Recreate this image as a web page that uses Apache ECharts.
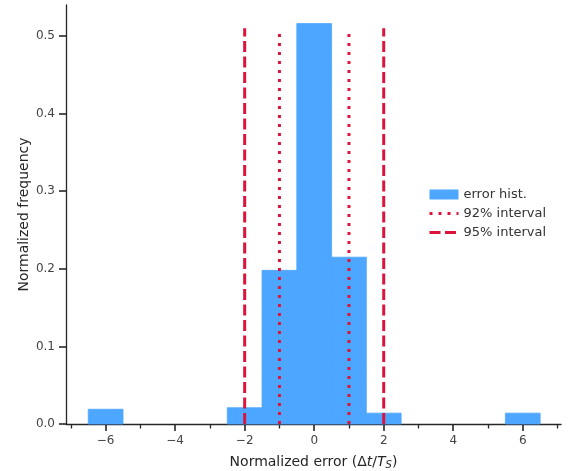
<!DOCTYPE html>
<html>
<head>
<meta charset="utf-8">
<script src="https://cdn.jsdelivr.net/npm/echarts@6/dist/echarts.min.js"></script>
<style>html,body{margin:0;padding:0;background:#fff}#c{width:569px;height:471px}</style>
</head>
<body>
<div id="c"></div>
<script>
// Data
var binStart = [-6.5, -2.5, -1.5, -0.5, 0.5, 1.5, 5.5];
var binEnd   = [-5.5, -1.5, -0.5, 0.5, 1.5, 2.5, 6.5];
var frequencies = [0.019, 0.021, 0.198, 0.516, 0.215, 0.014, 0.014];
var interval92 = [-1, 1];
var interval95 = [-2, 2];
var intervalLineTop = 0.51;
var xTickLabels = [-6, -4, -2, 0, 2, 4, 6];
var xMinorTicks = [-7, -5, -3, -1, 1, 3, 5, 7];
var yTickLabels = [0.0, 0.1, 0.2, 0.3, 0.4, 0.5];

var FONT = 'DejaVu Sans';
var DARK = '#262626';
var BAR = '#4da6ff';
var RED = '#dc143c';

var histData = binStart.map(function (s, i) { return [s, binEnd[i], frequencies[i]]; });
function vlines(xs) {
  var out = [];
  xs.forEach(function (x) { out.push([x, 0]); out.push([x, intervalLineTop]); out.push([x, null]); });
  return out;
}

var chart = echarts.init(document.getElementById('c'), null, {renderer: 'canvas'});
chart.setOption({
  animation: false,
  textStyle: {fontFamily: FONT},
  grid: {left: 66, right: 8, top: 5, bottom: 47, containLabel: false, outerBoundsMode: 'none'},
  legend: {
    orient: 'vertical',
    left: 423, top: 183,
    itemWidth: 29, itemHeight: 10, itemGap: 6,
    textStyle: {fontFamily: FONT, fontSize: 13, color: '#333'},
    data: [
      {name: 'error hist.', icon: 'rect'},
      {name: '92% interval', itemStyle: {opacity: 0}, lineStyle: {width: 3, type: [3, 6], color: RED}},
      {name: '95% interval', itemStyle: {opacity: 0}, lineStyle: {width: 3, type: [11, 4.5], color: RED}}
    ]
  },
  xAxis: [{
    type: 'value', min: -7.14, max: 7.1,
    name: 'Normalized error (Δ{i|t}/{i|T}{sub|S})',
    nameLocation: 'middle', nameGap: 30, nameMoveOverlap: false,
    nameTextStyle: {fontFamily: FONT, fontSize: 14, color: DARK,
      rich: {i: {fontFamily: FONT, fontSize: 14, fontStyle: 'italic', color: DARK},
             sub: {fontFamily: FONT, fontSize: 10, fontStyle: 'italic', color: DARK, verticalAlign: 'bottom', padding: [6, 0, 0, 0]}}},
    axisLine: {show: true, onZero: false, lineStyle: {color: DARK, width: 1.3}},
    axisTick: {show: true, inside: false, length: 7, lineStyle: {color: DARK, width: 1.6}, customValues: xTickLabels},
    axisLabel: {show: true, margin: 11, fontSize: 12, color: '#444', fontFamily: FONT, customValues: xTickLabels,
      formatter: function (v) { return String(v).replace('-', '\u2212'); }},
    splitLine: {show: false}
  }, {
    type: 'value', min: -7.14, max: 7.1, position: 'bottom',
    axisLine: {show: false, onZero: false},
    axisTick: {show: true, inside: false, length: 4.5, lineStyle: {color: DARK, width: 1.3}, customValues: xMinorTicks},
    axisLabel: {show: false},
    splitLine: {show: false}
  }],
  yAxis: {
    type: 'value', min: 0, max: 0.54,
    name: 'Normalized frequency', nameLocation: 'middle', nameGap: 35, nameMoveOverlap: false,
    nameTextStyle: {fontFamily: FONT, fontSize: 14, color: DARK},
    axisLine: {show: true, onZero: false, lineStyle: {color: DARK, width: 1.3}},
    axisTick: {show: true, inside: false, length: 7, lineStyle: {color: DARK, width: 1.6}, customValues: yTickLabels},
    axisLabel: {show: true, margin: 11, fontSize: 12, color: '#444', fontFamily: FONT, customValues: yTickLabels,
      formatter: function (v) { return v.toFixed(1); }},
    splitLine: {show: false}
  },
  series: [{
    name: 'error hist.', type: 'custom',
    itemStyle: {color: BAR},
    encode: {x: [0, 1], y: 2},
    data: histData,
    renderItem: function (params, api) {
      var p0 = api.coord([api.value(0), 0]);
      var p1 = api.coord([api.value(1), api.value(2)]);
      return {type: 'rect',
        shape: {x: p0[0], y: p1[1], width: p1[0] - p0[0], height: p0[1] - p1[1]},
        style: {fill: BAR, stroke: BAR, lineWidth: 0.8}};
    },
    z: 1
  }, {
    name: '92% interval', type: 'line', data: vlines(interval92),
    symbol: 'none', connectNulls: false,
    lineStyle: {color: RED, width: 3, type: [3, 6]},
    itemStyle: {color: RED}, z: 3
  }, {
    name: '95% interval', type: 'line', data: vlines(interval95),
    symbol: 'none', connectNulls: false,
    lineStyle: {color: RED, width: 3, type: [11, 4.5]},
    itemStyle: {color: RED}, z: 3
  }]
});
</script>
</body>
</html>
